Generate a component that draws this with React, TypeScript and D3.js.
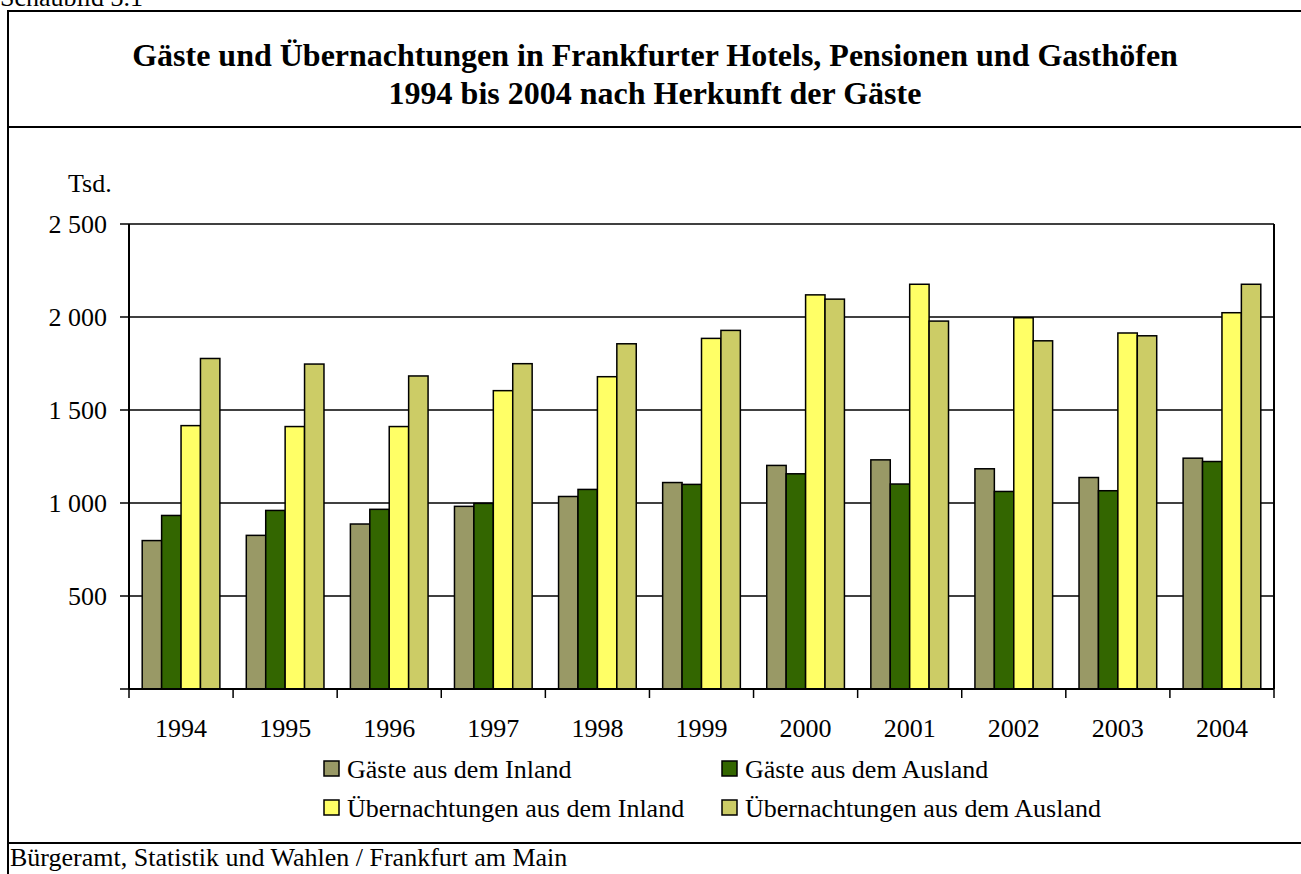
import { useEffect, useRef } from 'react';
import * as d3 from 'd3';

const years = ['1994', '1995', '1996', '1997', '1998', '1999', '2000', '2001', '2002', '2003', '2004'];
const gaesteInland = [798, 826, 887, 982, 1035, 1110, 1202, 1232, 1184, 1137, 1241];
const gaesteAusland = [933, 960, 966, 998, 1073, 1100, 1157, 1102, 1062, 1066, 1223];
const uebInland = [1416, 1411, 1411, 1604, 1679, 1885, 2119, 2176, 1996, 1914, 2023];
const uebAusland = [1777, 1747, 1683, 1749, 1856, 1928, 2096, 1978, 1872, 1899, 2176];
const yTicks = [500, 1000, 1500, 2000, 2500];

const seriesNames = [
  'Gäste aus dem Inland',
  'Gäste aus dem Ausland',
  'Übernachtungen aus dem Inland',
  'Übernachtungen aus dem Ausland',
];
const seriesValues = [gaesteInland, gaesteAusland, uebInland, uebAusland];
const colors = ['#999966', '#336600', '#ffff66', '#cccc66'];

const FONT = '"Liberation Serif", "Times New Roman", serif';
const FS = 26;

export default function App() {
  const svgRef = useRef<SVGSVGElement | null>(null);

  useEffect(() => {
    const el = svgRef.current;
    if (!el) return;
    const svg = d3.select(el);
    svg.selectAll('*').remove();

    const left = 129, right = 1274, top = 224, bottom = 689;

    // page text + frame
    svg.append('text')
      .attr('x', 0).attr('y', 6)
      .attr('font-family', FONT).attr('font-size', FS)
      .text('Schaubild 3.1');

    svg.append('rect')
      .attr('x', 8).attr('y', 11)
      .attr('width', 1310).attr('height', 900)
      .attr('fill', 'none').attr('stroke', '#000').attr('stroke-width', 2);
    [127, 843].forEach((y) => {
      svg.append('line')
        .attr('x1', 8).attr('x2', 1310).attr('y1', y).attr('y2', y)
        .attr('stroke', '#000').attr('stroke-width', 2);
    });

    const title = svg.append('text')
      .attr('text-anchor', 'middle')
      .attr('font-family', FONT).attr('font-size', 32).attr('font-weight', 'bold');
    title.append('tspan').attr('x', 655).attr('y', 66)
      .text('Gäste und Übernachtungen in Frankfurter Hotels, Pensionen und Gasthöfen');
    title.append('tspan').attr('x', 655).attr('y', 104)
      .text('1994 bis 2004 nach Herkunft der Gäste');

    svg.append('text')
      .attr('x', 10).attr('y', 866)
      .attr('font-family', FONT).attr('font-size', FS)
      .text('Bürgeramt, Statistik und Wahlen / Frankfurt am Main');

    // scales
    const y = d3.scaleLinear().domain([0, 2500]).range([bottom, top]);
    const x0 = d3.scaleBand<string>().domain(years).range([left, right]).padding(0);
    const x1 = d3.scaleBand<number>()
      .domain(d3.range(seriesNames.length))
      .range([0, x0.bandwidth()])
      .paddingInner(0).paddingOuter(0.68);

    const fmt = (v: number) => d3.format(',')(v).replace(',', ' ');

    // gridlines + y ticks
    yTicks.forEach((t) => {
      svg.append('line')
        .attr('x1', left - 9).attr('x2', right)
        .attr('y1', y(t)).attr('y2', y(t))
        .attr('stroke', '#000').attr('stroke-width', 1.5);
      svg.append('text')
        .attr('x', 107).attr('y', y(t) + 9)
        .attr('text-anchor', 'end')
        .attr('font-family', FONT).attr('font-size', FS)
        .text(fmt(t));
    });
    svg.append('line')
      .attr('x1', left - 9).attr('x2', left)
      .attr('y1', bottom).attr('y2', bottom)
      .attr('stroke', '#000').attr('stroke-width', 1.5);

    svg.append('text')
      .attr('x', 68).attr('y', 192)
      .attr('font-family', FONT).attr('font-size', FS)
      .text('Tsd.');

    // bars
    years.forEach((yr, i) => {
      seriesValues.forEach((vals, s) => {
        const bx = (x0(yr) ?? 0) + (x1(s) ?? 0);
        svg.append('rect')
          .attr('x', bx).attr('y', y(vals[i]))
          .attr('width', x1.bandwidth()).attr('height', y(0) - y(vals[i]))
          .attr('fill', colors[s])
          .attr('stroke', '#000').attr('stroke-width', 1.5);
      });
    });

    // axes frame
    svg.append('line')
      .attr('x1', left).attr('x2', left).attr('y1', top).attr('y2', bottom)
      .attr('stroke', '#000').attr('stroke-width', 2);
    svg.append('line')
      .attr('x1', right).attr('x2', right).attr('y1', top).attr('y2', bottom)
      .attr('stroke', '#000').attr('stroke-width', 2);
    svg.append('line')
      .attr('x1', left).attr('x2', right).attr('y1', bottom).attr('y2', bottom)
      .attr('stroke', '#000').attr('stroke-width', 2);

    // x ticks at band edges + labels
    const edges = years.map((yr) => x0(yr) ?? 0).concat([right]);
    edges.forEach((ex) => {
      svg.append('line')
        .attr('x1', ex).attr('x2', ex).attr('y1', bottom).attr('y2', bottom + 9)
        .attr('stroke', '#000').attr('stroke-width', 1.5);
    });
    years.forEach((yr) => {
      svg.append('text')
        .attr('x', (x0(yr) ?? 0) + x0.bandwidth() / 2).attr('y', 737)
        .attr('text-anchor', 'middle')
        .attr('font-family', FONT).attr('font-size', FS)
        .text(yr);
    });

    // legend
    const legendPos = [
      [324, 769], [722, 769], [324, 808], [722, 808],
    ];
    seriesNames.forEach((name, s) => {
      const [lx, ly] = legendPos[s];
      svg.append('rect')
        .attr('x', lx).attr('y', ly - 8)
        .attr('width', 15).attr('height', 15)
        .attr('fill', colors[s])
        .attr('stroke', '#000').attr('stroke-width', 1.5);
      svg.append('text')
        .attr('x', lx + 23).attr('y', ly + 9)
        .attr('font-family', FONT).attr('font-size', FS)
        .text(name);
    });
  }, []);

  return (
    <svg
      ref={svgRef}
      width={1301}
      height={874}
      style={{ position: 'absolute', left: 0, top: 0, background: '#fff' }}
    />
  );
}
